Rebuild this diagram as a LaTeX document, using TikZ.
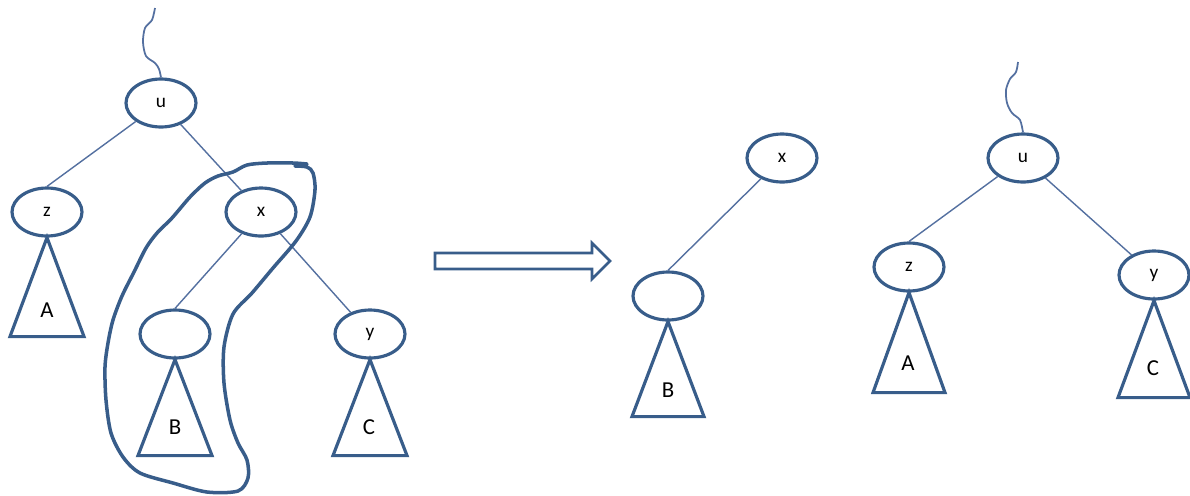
\documentclass[tikz,border=0pt]{standalone}
\usepackage{fontspec}
\setmainfont{Carlito}
\usetikzlibrary{shapes.geometric,calc}
\definecolor{outl}{RGB}{56,93,138}
\definecolor{edgec}{RGB}{84,112,160}

\begin{document}
\begin{tikzpicture}[
  x=0.02cm, y=-0.02cm,
  vertex/.style={ellipse, draw=outl, line width=1.8pt, fill=white, minimum width=1.40cm, minimum height=0.96cm, inner sep=0pt, font=\fontsize{11}{11}\selectfont},
  edge/.style={draw=edgec, line width=0.8pt},
  tri/.style={draw=outl, line width=1.8pt},
  subtree/.style={font=\fontsize{13}{13}\selectfont},
  wavy/.style={draw=edgec, line width=1pt},
  lasso/.style={draw=outl, line width=2pt, line join=round, line cap=round}
]
  \useasboundingbox (0,0) rectangle (1190,495);

  \node (u1) [vertex] at (161,103) {u};
  \node (z1) [vertex] at (47,212) {z};
  \node (x1) [vertex] at (261,212) {x};
  \node (e1) [vertex] at (175,334) {};
  \node (y1) [vertex] at (370,334) {y};

  \draw[wavy] plot[smooth] coordinates {(155,8) (152,20) (145,28) (143,42) (146,56) (155,63) (159,69) (u1.north)};

  \draw[edge] (u1) -- (z1.north);
  \draw[edge] (u1) -- (x1);
  \draw[edge] (x1) -- (e1.north);
  \draw[edge] (x1) -- (y1);

  \draw[tri] (z1.south) -- ++(-37,99) -- ++(74,0) -- cycle;
  \node (A1) [subtree] at (47,310) {A};
  \draw[tri] (e1.south) -- ++(-37,96) -- ++(74,0) -- cycle;
  \node (B1) [subtree] at (175,427) {B};
  \draw[tri] (y1.south) -- ++(-37,96) -- ++(74,0) -- cycle;
  \node (C1) [subtree] at (369,427) {C};

  \draw[lasso] plot[smooth] coordinates {(307,164) (293,163) (267,163) (247,165) (233,172) (218,176) (205,183) (190,197) (172,218) (157,233) (146,248) (134,272) (122,296) (113,320) (108,343) (105,367) (106,400) (111,433) (123,457) (140,473) (173,483) (207,492) (238,491) (248,478) (247,460) (238,443) (230,420) (224,383) (224,347) (233,314) (252,293) (273,268) (296,241) (310,217) (315,190) (313,173) (307,167) (295,166)};

  \draw[draw=outl, line width=1.5pt] (435,253) -- (592,253) -- (592,243) -- (610,261) -- (592,279) -- (592,269) -- (435,269) -- cycle;

  \node (x2) [vertex] at (782,158) {x};
  \node (e2) [vertex] at (668,296) {};
  \draw[edge] (x2) -- (e2.north);
  \draw[tri] (e2.south) -- ++(-36,95) -- ++(72,0) -- cycle;
  \node (B2) [subtree] at (668,390) {B};

  \node (u3) [vertex] at (1023,158) {u};
  \node (z3) [vertex] at (909,267) {z};
  \node (y3) [vertex] at (1154,275) {y};

  \draw[wavy] plot[smooth] coordinates {(1018,62) (1016,72) (1010,79) (1006,90) (1007,103) (1012,113) (1020,120) (u3.north)};

  \draw[edge] (u3) -- (z3.north);
  \draw[edge] (u3) -- (y3);

  \draw[tri] (z3.south) -- ++(-36,100) -- ++(72,0) -- cycle;
  \node (A3) [subtree] at (908,363) {A};
  \draw[tri] (y3.south) -- ++(-36,97) -- ++(72,0) -- cycle;
  \node (C3) [subtree] at (1153,368) {C};

\end{tikzpicture}
\end{document}
